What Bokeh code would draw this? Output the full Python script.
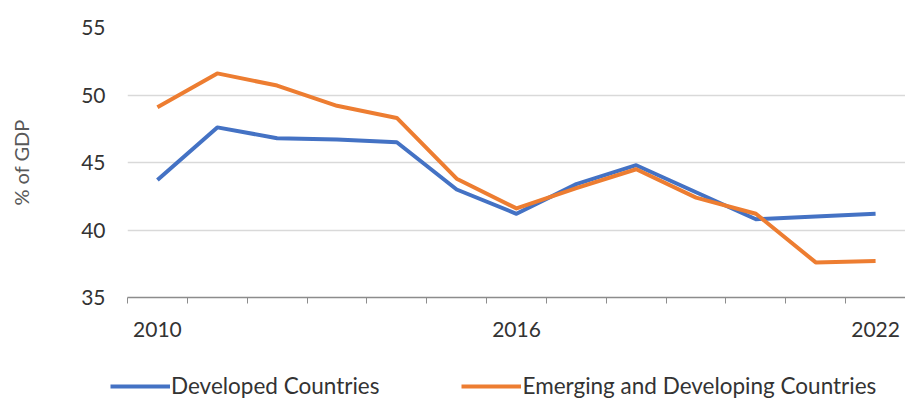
from bokeh.plotting import figure
from bokeh.layouts import column, row
from bokeh.models import FixedTicker, Legend, LegendItem, Range1d
from bokeh.embed import file_html
from bokeh.resources import INLINE

years = list(range(2010, 2023))
developed = [43.7, 47.6, 46.8, 46.7, 46.5, 43.0, 41.2, 43.4, 44.8, 42.8, 40.8, 41.0, 41.2]
emerging = [49.1, 51.6, 50.7, 49.2, 48.3, 43.8, 41.6, 43.1, 44.5, 42.4, 41.2, 37.6, 37.7]
y_ticks = [35, 40, 45, 50, 55]
x_label_years = [2010, 2016, 2022]
series_names = ["Developed Countries", "Emerging and Developing Countries"]
series_colors = ["#4472C4", "#ED7D31"]

FONT = "Lato"
TXT = "#333333"

p = figure(width=905, height=360, output_backend="svg", toolbar_location=None,
           x_range=Range1d(2009.5, 2022.5), y_range=Range1d(35, 55),
           min_border_left=127, min_border_right=0, min_border_top=27, min_border_bottom=63)
p.outline_line_color = None
p.background_fill_color = "white"
p.border_fill_color = "white"

p.line(years, developed, line_color=series_colors[0], line_width=4, line_join="round")
p.line(years, emerging, line_color=series_colors[1], line_width=4, line_join="round")

# x axis
p.xaxis.ticker = FixedTicker(ticks=x_label_years, minor_ticks=[y - 0.5 for y in years])
p.xaxis.major_tick_out = 0
p.xaxis.major_tick_in = 0
p.xaxis.minor_tick_out = 6
p.xaxis.minor_tick_in = 0
p.xaxis.minor_tick_line_color = "#8c8c8c"
p.xaxis.axis_line_color = "#8c8c8c"
p.xaxis.axis_line_width = 1.5
p.xaxis.major_label_text_font = FONT
p.xaxis.major_label_text_font_size = "21px"
p.xaxis.major_label_text_color = TXT
p.xaxis.major_label_standoff = 18
p.xgrid.grid_line_color = None

# y axis
p.yaxis.ticker = FixedTicker(ticks=y_ticks)
p.yaxis.axis_line_color = None
p.yaxis.major_tick_line_color = None
p.yaxis.minor_tick_line_color = None
p.yaxis.major_label_text_font = FONT
p.yaxis.major_label_text_font_size = "21px"
p.yaxis.major_label_text_color = TXT
p.yaxis.major_label_standoff = 16
p.yaxis.axis_label = "% of GDP"
p.yaxis.axis_label_text_font = FONT
p.yaxis.axis_label_text_font_size = "20px"
p.yaxis.axis_label_text_font_style = "normal"
p.yaxis.axis_label_text_color = "#595959"
p.yaxis.axis_label_standoff = 45
p.ygrid.grid_line_color = "#d9d9d9"
p.ygrid.grid_line_width = 1.5

# legend strip (series lines fall outside this strip's ranges; only the legend shows)
q = figure(width=905, height=41, output_backend="svg", toolbar_location=None,
           x_range=Range1d(0, 1), y_range=Range1d(0, 1),
           min_border_left=0, min_border_right=0, min_border_top=0, min_border_bottom=0)
q.axis.visible = False
q.grid.visible = False
q.outline_line_color = None
l1 = q.line(years, developed, line_color=series_colors[0], line_width=4)
l2 = q.line(years, emerging, line_color=series_colors[1], line_width=4)
legend = Legend(items=[LegendItem(label=series_names[0], renderers=[l1]),
                       LegendItem(label=series_names[1], renderers=[l2])],
                orientation="horizontal", location=(110, 2),
                padding=0, margin=0, spacing=82, glyph_width=60, glyph_height=24,
                label_height=24, label_standoff=1, border_line_color=None,
                background_fill_alpha=0,
                label_text_font=FONT, label_text_font_size="22.5px", label_text_color=TXT)
q.add_layout(legend, "center")

open("out.html", "w").write(file_html(column(p, row(q), spacing=0), INLINE))
